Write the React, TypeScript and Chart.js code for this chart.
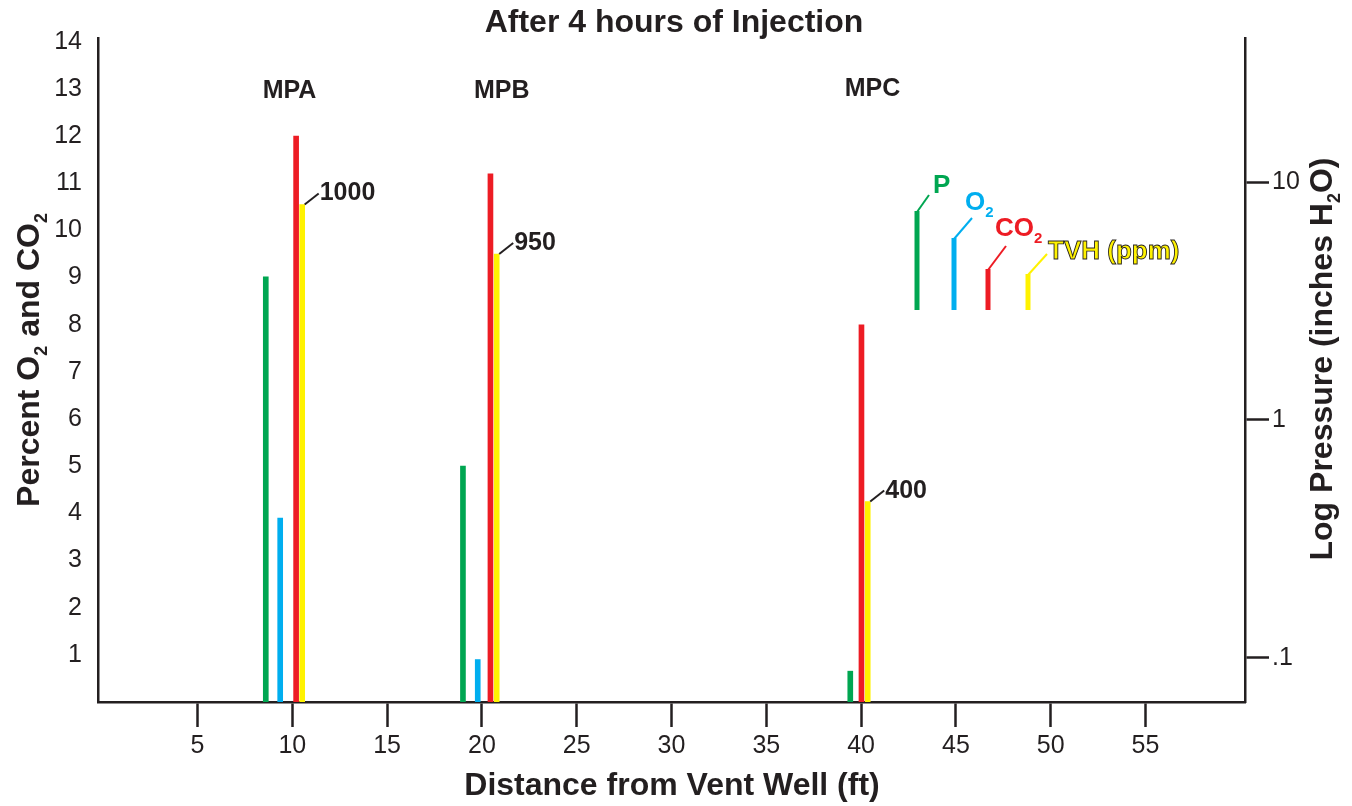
import React, { useEffect, useRef } from "react";
import { Chart, registerables } from "chart.js";

Chart.register(...registerables);

// ---------- data ----------
const pDistance = [8.6, 19.0, 39.43];
const pressure = [4.0, 0.64, 0.088]; // inches H2O (log axis)
const o2Distance = [9.36, 19.78];
const o2Percent = [3.9, 0.9];
const co2Distance = [10.2, 20.45, 40.02];
const co2Percent = [12.0, 11.2, 8.0];
const tvhDistance = [10.52, 20.78, 40.35];
const tvhHeight = [10.55, 9.5, 4.25];
const tvhPpm = ["1000", "950", "400"];

const sites = ["MPA", "MPB", "MPC"];
const siteX = [9.85, 21.05, 40.6];
const siteY = [13.0, 13.0, 13.05];

const xTicks = [5, 10, 15, 20, 25, 30, 35, 40, 45, 50, 55];
const pTicks = [0.1, 1, 10];
const pTickLabels = [".1", "1", "10"];

const GREEN = "#00a651";
const BLUE = "#00aeef";
const RED = "#ed1c24";
const YELLOW = "#fff200";
const DARK = "#231f20";
const FAMILY = "'Liberation Sans', Arial, Helvetica, sans-serif";

type Part = { t: string; sub?: boolean };

function richWidth(ctx: CanvasRenderingContext2D, parts: Part[], size: number) {
  let w = 0;
  for (const p of parts) {
    ctx.font = `bold ${p.sub ? Math.round(size * 0.56) : size}px ${FAMILY}`;
    w += ctx.measureText(p.t).width;
  }
  return w;
}

function drawRich(
  ctx: CanvasRenderingContext2D,
  parts: Part[],
  x: number,
  cy: number,
  size: number,
  align: "left" | "center",
  fill: string,
  stroke?: string
) {
  const total = richWidth(ctx, parts, size);
  let cx = align === "center" ? x - total / 2 : x;
  const base = cy + size * 0.36;
  ctx.textAlign = "left";
  ctx.textBaseline = "alphabetic";
  for (const p of parts) {
    const s = p.sub ? Math.round(size * 0.56) : size;
    ctx.font = `bold ${s}px ${FAMILY}`;
    const by = p.sub ? base + size * 0.25 : base;
    ctx.fillStyle = fill;
    ctx.fillText(p.t, cx, by);
    if (stroke) {
      ctx.strokeStyle = stroke;
      ctx.lineWidth = 0.9;
      ctx.strokeText(p.t, cx, by);
    }
    cx += ctx.measureText(p.t).width;
  }
}

const legendItems = [
  { color: GREEN, parts: [{ t: "P" }], lx: 917, top: 211, dx: 929, dy: 195, tx: 933, ty: 184 },
  { color: BLUE, parts: [{ t: "O" }, { t: "2", sub: true }], lx: 954, top: 238, dx: 972, dy: 218, tx: 965, ty: 201 },
  { color: RED, parts: [{ t: "CO" }, { t: "2", sub: true }], lx: 988, top: 269, dx: 1006, dy: 246, tx: 995, ty: 227 },
  { color: YELLOW, parts: [{ t: "TVH (ppm)" }], lx: 1028, top: 274, dx: 1047, dy: 254, tx: 1048, ty: 250, stroke: DARK },
];

const decorPlugin = {
  id: "decor",
  afterDraw(chart: any) {
    const ctx: CanvasRenderingContext2D = chart.ctx;
    const sx = chart.scales.x;
    const sy = chart.scales.y;
    ctx.save();

    // title
    drawRich(ctx, [{ t: "After 4 hours of Injection" }], 674, 20, 32, "center", DARK);
    // x title
    drawRich(ctx, [{ t: "Distance from Vent Well (ft)" }], 672, 783, 32, "center", DARK);

    // left title
    ctx.save();
    ctx.translate(27, 360);
    ctx.rotate(-Math.PI / 2);
    drawRich(
      ctx,
      [{ t: "Percent O" }, { t: "2", sub: true }, { t: " and CO" }, { t: "2", sub: true }],
      0, 0, 32, "center", DARK
    );
    ctx.restore();

    // right title
    ctx.save();
    ctx.translate(1320, 359);
    ctx.rotate(-Math.PI / 2);
    drawRich(
      ctx,
      [{ t: "Log Pressure (inches H" }, { t: "2", sub: true }, { t: "O)" }],
      0, 0, 32, "center", DARK
    );
    ctx.restore();

    // site labels
    sites.forEach((s, i) => {
      drawRich(ctx, [{ t: s }], sx.getPixelForValue(siteX[i]), sy.getPixelForValue(siteY[i]), 25, "center", DARK);
    });

    // TVH ppm leader labels
    const meta = chart.getDatasetMeta(3);
    meta.data.forEach((el: any, i: number) => {
      const x0 = el.x + el.width / 2;
      const y0 = el.y;
      ctx.strokeStyle = DARK;
      ctx.lineWidth = 2;
      ctx.beginPath();
      ctx.moveTo(x0, y0);
      ctx.lineTo(x0 + 14, y0 - 11);
      ctx.stroke();
      drawRich(ctx, [{ t: tvhPpm[i] }], x0 + 15, y0 - 13, 25, "left", DARK);
    });

    // legend
    const bottom = 310;
    legendItems.forEach((it) => {
      ctx.strokeStyle = it.color;
      ctx.lineCap = "butt";
      ctx.lineWidth = 5;
      ctx.beginPath();
      ctx.moveTo(it.lx, bottom);
      ctx.lineTo(it.lx, it.top);
      ctx.stroke();
      ctx.lineWidth = 2;
      ctx.beginPath();
      ctx.moveTo(it.lx, it.top + 1);
      ctx.lineTo(it.dx, it.dy);
      ctx.stroke();
      drawRich(ctx, it.parts, it.tx, it.ty, 26, "left", it.color, (it as any).stroke);
    });

    ctx.restore();
  },
};

export default function App() {
  const ref = useRef<HTMLCanvasElement | null>(null);

  useEffect(() => {
    document.body.style.margin = "0";
    document.body.style.overflow = "hidden";
    if (!ref.current) return;
    const tickFont = { size: 25, family: FAMILY };
    const border = { display: true, width: 2.5, color: DARK };
    const chart = new Chart(ref.current, {
      type: "bar",
      data: {
        datasets: [
          {
            label: "P",
            data: pDistance.map((x, i) => ({ x, y: pressure[i] })),
            backgroundColor: GREEN,
            yAxisID: "yP",
          },
          {
            label: "O2",
            data: o2Distance.map((x, i) => ({ x, y: o2Percent[i] })),
            backgroundColor: BLUE,
            yAxisID: "y",
          },
          {
            label: "CO2",
            data: co2Distance.map((x, i) => ({ x, y: co2Percent[i] })),
            backgroundColor: RED,
            yAxisID: "y",
          },
          {
            label: "TVH (ppm)",
            data: tvhDistance.map((x, i) => ({ x, y: tvhHeight[i] })),
            backgroundColor: YELLOW,
            yAxisID: "y",
          },
        ] as any,
      },
      options: {
        responsive: false,
        animation: false,
        devicePixelRatio: 1,
        layout: { padding: { top: 38, left: 0, right: 0, bottom: 0 } },
        datasets: { bar: { barThickness: 5, grouped: false, borderWidth: 0 } } as any,
        plugins: {
          legend: { display: false },
          title: { display: false },
          tooltip: { enabled: false },
        },
        scales: {
          x: {
            type: "linear",
            min: -0.25,
            max: 60.25,
            offset: false,
            grid: {
              display: true,
              drawOnChartArea: false,
              drawTicks: true,
              tickLength: 25,
              tickWidth: 2.5,
              tickColor: DARK,
              offset: false,
            },
            border,
            ticks: {
              stepSize: 5,
              includeBounds: false,
              autoSkip: false,
              maxRotation: 0,
              font: tickFont,
              color: DARK,
              padding: 4,
            },
            afterBuildTicks: (s: any) => {
              s.ticks = xTicks.map((v) => ({ value: v }));
            },
            afterFit: (s: any) => {
              s.height = 104;
            },
          },
          y: {
            type: "linear",
            position: "left",
            min: 0,
            max: 14.08,
            grid: { display: false, drawTicks: false },
            border,
            ticks: {
              stepSize: 1,
              includeBounds: false,
              font: tickFont,
              color: DARK,
              padding: 16,
              callback: (v: any) => (v === 0 ? "" : String(v)),
            },
            afterFit: (s: any) => {
              s.width = 98;
            },
          },
          yP: {
            type: "logarithmic",
            position: "right",
            min: 0.0653,
            max: 40.3,
            bounds: "data",
            grid: {
              display: true,
              drawOnChartArea: false,
              drawTicks: true,
              tickLength: 24,
              tickWidth: 2.5,
              tickColor: DARK,
            },
            border,
            ticks: {
              font: tickFont,
              color: DARK,
              padding: 3,
              callback: (v: any) => {
                const i = pTicks.findIndex((t) => Math.abs(t - v) < 1e-9);
                return i >= 0 ? pTickLabels[i] : "";
              },
            },
            afterBuildTicks: (s: any) => {
              s.ticks = pTicks.map((v) => ({ value: v }));
            },
            afterFit: (s: any) => {
              s.width = 107;
            },
          },
        } as any,
      },
      plugins: [decorPlugin],
    });
    return () => chart.destroy();
  }, []);

  return (
    <div style={{ width: 1352, height: 806 }}>
      <canvas ref={ref} width={1352} height={806} style={{ display: "block" }} />
    </div>
  );
}
